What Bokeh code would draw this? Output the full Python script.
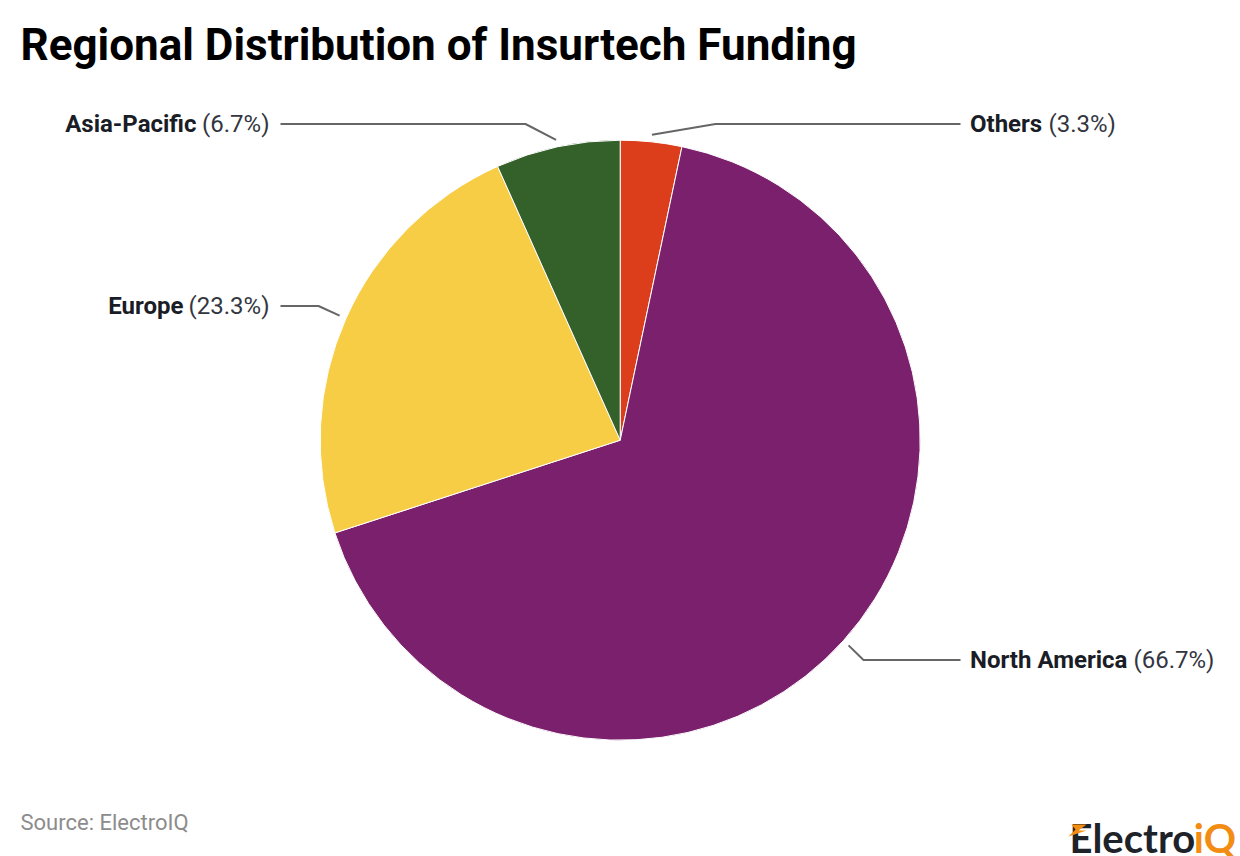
from math import pi, sin, cos
from bokeh.plotting import figure
from bokeh.models import Range1d
from bokeh.core.properties import value
from bokeh.embed import file_html
from bokeh.resources import INLINE

title = "Regional Distribution of Insurtech Funding"
source = "Source: ElectroIQ"
regions = ["Others", "North America", "Europe", "Asia-Pacific"]
shares = [3.3, 66.7, 23.3, 6.7]
colors = ["#DC3D1A", "#7A206D", "#F6CD44", "#34602A"]

# page pixel -> data helpers: pie centre at page (620, 440), radius 300 px
CX, CY, R = 619.7, 439.7, 300
W, H = 1240, 856
def X(px): return px - CX
def Y(py): return CY - py

p = figure(width=W, height=H, output_backend="svg", toolbar_location=None,
           x_range=Range1d(X(0), X(W)), y_range=Range1d(Y(H), Y(0)),
           min_border=0, outline_line_color=None, background_fill_color="white",
           border_fill_color="white")
p.axis.visible = False
p.grid.visible = False
p.xaxis.visible = False
p.yaxis.visible = False

total = sum(shares)
cum = [0.0]
for s in shares:
    cum.append(cum[-1] + s)
starts = [pi / 2 - 2 * pi * c / total for c in cum[:-1]]
ends = [pi / 2 - 2 * pi * c / total for c in cum[1:]]
p.wedge(x=0, y=0, radius=R, start_angle=starts, end_angle=ends, direction="clock",
        fill_color=colors, line_color="white", line_width=1)

# leader lines: from the slice's mid angle, via an elbow on the label's row
elbow_x = {"Others": 715, "North America": 863, "Europe": 318, "Asia-Pacific": 525}
row_y = {"Others": 123.5, "North America": 659.5, "Europe": 305.5, "Asia-Pacific": 123.5}
for i, name in enumerate(regions):
    mid = 2 * pi * (cum[i] + cum[i + 1]) / 2 / total
    x0, y0 = 307 * sin(mid), 307 * cos(mid)
    right = sin(mid) > 0
    end_x = 960 if right else 280
    p.line([x0, X(elbow_x[name]), X(end_x)], [y0, Y(row_y[name]), Y(row_y[name])],
           line_color="#666666", line_width=2)
    # label: bold name + regular share
    pct = f"({shares[i]}%)"
    if right:
        bold_x = 969.5
        name_w = {"Others": 72, "North America": 157}[name]
        p.text([X(bold_x)], [Y(row_y[name])], text=[name], text_font=value("Roboto"),
               text_font_style="bold", text_font_size="24px", text_color="#1A1D26",
               text_align="left", text_baseline="middle")
        p.text([X(bold_x + name_w + 6.5)], [Y(row_y[name])], text=[pct], text_font=value("Roboto"),
               text_font_size="24px", text_color="#33363F", text_align="left",
               text_baseline="middle")
    else:
        pct_w = {"Europe": 80, "Asia-Pacific": 67}[name]
        p.text([X(269)], [Y(row_y[name])], text=[pct], text_font=value("Roboto"),
               text_font_size="24px", text_color="#33363F", text_align="right",
               text_baseline="middle")
        p.text([X(269 - pct_w - 6)], [Y(row_y[name])], text=[name], text_font=value("Roboto"),
               text_font_style="bold", text_font_size="24px", text_color="#1A1D26",
               text_align="right", text_baseline="middle")

p.text([X(20)], [Y(44.5)], text=[title], text_font=value("Roboto"), text_font_style="bold",
       text_font_size="44px", text_color="#000000", text_align="left", text_baseline="middle")
p.text([X(20)], [Y(822)], text=[source], text_font=value("Roboto"), text_font_size="22px",
       text_color="#8C8C8C", text_align="left", text_baseline="middle")

# logo wordmark
p.text([X(1069)], [Y(837.5)], text=["Electro"], text_font=value("Lato"), text_font_style="bold",
       text_font_size="40px", text_color="#1E2229", text_align="left", text_baseline="middle")
p.text([X(1235.5)], [Y(837.5)], text=["iQ"], text_font=value("Lato"), text_font_style="bold",
       text_font_size="40px", text_color="#F28C13", text_align="right", text_baseline="middle")
p.patch([X(1071), X(1086), X(1078), X(1086), X(1068), X(1075)],
        [Y(824), Y(824), Y(830), Y(830), Y(836), Y(829)], fill_color="#F28C13", line_color=None)

open("out.html", "w").write(file_html(p, INLINE))
